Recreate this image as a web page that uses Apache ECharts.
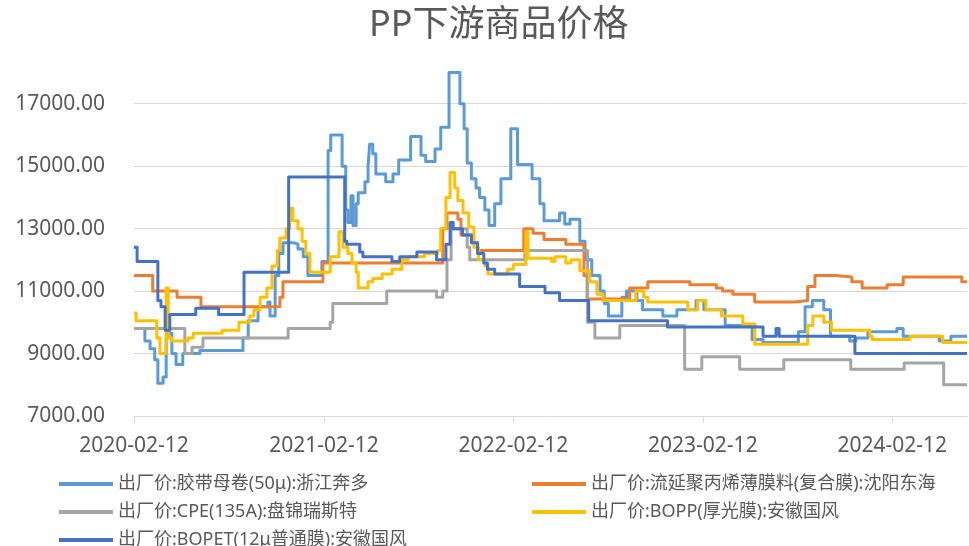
<!DOCTYPE html>
<html>
<head>
<meta charset="utf-8">
<script src="https://cdn.jsdelivr.net/npm/echarts@6/dist/echarts.min.js"></script>
<style>
  html, body { margin: 0; padding: 0; background: #fff; }
  #chart { width: 969px; height: 546px; }
</style>
</head>
<body>
<div id="chart"></div>
<script>
// 出厂价 series, [date of change, price]; drawn as steps
const tapeRoll = [
  ['2020-02-12', 9800], ['2020-03-04', 9400], ['2020-03-14', 9150], ['2020-03-23', 8800],
  ['2020-03-29', 8050], ['2020-04-08', 8250], ['2020-04-14', 9500], ['2020-04-18', 9650],
  ['2020-04-25', 9000], ['2020-05-03', 8650], ['2020-05-16', 9000], ['2020-06-18', 9100],
  ['2020-09-09', 9500], ['2020-09-19', 10050], ['2020-10-08', 10500], ['2020-10-27', 10650],
  ['2020-10-31', 10200], ['2020-11-10', 11500], ['2020-11-17', 12200], ['2020-11-25', 12550],
  ['2020-12-15', 12500], ['2020-12-24', 12350], ['2021-01-03', 12100], ['2021-01-12', 11500],
  ['2021-02-08', 11950], ['2021-02-20', 15500], ['2021-02-25', 16000], ['2021-03-19', 15000],
  ['2021-03-26', 13600], ['2021-03-30', 13200], ['2021-04-05', 14050], ['2021-04-09', 13100],
  ['2021-04-15', 13800], ['2021-04-19', 14150], ['2021-05-02', 14500], ['2021-05-08', 15000],
  ['2021-05-11', 15700], ['2021-05-17', 15400], ['2021-05-23', 14750], ['2021-06-11', 14500],
  ['2021-06-25', 14750], ['2021-07-06', 15200], ['2021-07-29', 15950], ['2021-08-18', 15350],
  ['2021-08-27', 15150], ['2021-09-14', 15550], ['2021-09-25', 16250], ['2021-10-11', 18000],
  ['2021-11-01', 17000], ['2021-11-09', 16200], ['2021-11-15', 15100], ['2021-11-23', 14600],
  ['2021-12-02', 14300], ['2021-12-09', 14000], ['2021-12-19', 13600], ['2021-12-27', 13100],
  ['2022-01-07', 13800], ['2022-01-19', 14600], ['2022-02-07', 16200], ['2022-02-20', 15050],
  ['2022-03-20', 14600], ['2022-04-04', 13800], ['2022-04-12', 13250], ['2022-05-12', 13500],
  ['2022-05-22', 13150], ['2022-06-01', 13300], ['2022-06-20', 12600], ['2022-06-30', 12000],
  ['2022-07-13', 11500], ['2022-07-29', 11000], ['2022-08-06', 10600], ['2022-08-14', 10200],
  ['2022-09-09', 10800], ['2022-09-18', 11000], ['2022-10-08', 10700], ['2022-10-19', 10400],
  ['2022-11-27', 10200], ['2022-12-24', 10400], ['2023-01-30', 10700], ['2023-02-14', 10400],
  ['2023-03-27', 9900], ['2023-05-18', 9450], ['2023-06-08', 9350], ['2023-08-15', 9700],
  ['2023-08-28', 10500], ['2023-09-11', 10700], ['2023-10-03', 10400], ['2023-10-16', 9550],
  ['2023-11-22', 9400], ['2023-12-04', 9500], ['2023-12-27', 9700], ['2024-02-21', 9800],
  ['2024-03-04', 9550], ['2024-05-13', 9400], ['2024-06-04', 9550], ['2024-07-05', 9550]
];
const castFilm = [
  ['2020-02-12', 11500], ['2020-03-19', 11000], ['2020-05-05', 10800], ['2020-06-20', 10500],
  ['2020-11-19', 10800], ['2020-11-25', 11300], ['2021-02-10', 11900], ['2021-09-29', 13000],
  ['2021-10-07', 13500], ['2021-10-28', 13300], ['2021-11-03', 12800], ['2021-11-24', 12550],
  ['2021-12-05', 12300], ['2022-03-04', 13000], ['2022-03-22', 12850], ['2022-04-12', 12650],
  ['2022-05-24', 12500], ['2022-06-28', 11500], ['2022-07-04', 10750], ['2022-09-24', 11100],
  ['2022-10-29', 11300], ['2023-01-18', 11200], ['2023-03-10', 11100], ['2023-03-22', 11000],
  ['2023-04-11', 10900], ['2023-05-23', 10650], ['2023-08-08', 10700], ['2023-09-02', 11150],
  ['2023-09-16', 11500], ['2023-10-26', 11450], ['2023-11-26', 11300], ['2023-12-16', 11100],
  ['2024-02-02', 11200], ['2024-03-04', 11450], ['2024-06-25', 11300], ['2024-07-05', 11300]
];
const cpe = [
  ['2020-02-12', 9800], ['2020-05-20', 9000], ['2020-06-03', 9200], ['2020-06-24', 9500],
  ['2020-12-05', 9800], ['2021-02-24', 10000], ['2021-03-01', 10600], ['2021-06-13', 11000],
  ['2021-09-17', 10800], ['2021-09-29', 11000], ['2021-10-07', 12000], ['2021-10-15', 13000],
  ['2021-11-15', 12400], ['2021-11-20', 12000], ['2022-03-06', 12300], ['2022-07-05', 10000],
  ['2022-07-19', 9500], ['2022-09-05', 9900], ['2023-01-08', 8500], ['2023-02-10', 8900],
  ['2023-04-24', 8500], ['2023-07-18', 8800], ['2023-11-24', 8500], ['2024-03-06', 8700],
  ['2024-05-21', 8000], ['2024-07-05', 8000]
];
const bopp = [
  ['2020-02-12', 10300], ['2020-02-16', 10050], ['2020-03-27', 9500], ['2020-04-02', 9000],
  ['2020-04-14', 11100], ['2020-04-18', 9500], ['2020-04-25', 9400], ['2020-05-26', 9500],
  ['2020-06-05', 9650], ['2020-07-31', 9750], ['2020-09-01', 10000], ['2020-09-22', 10200],
  ['2020-09-30', 10400], ['2020-10-12', 10800], ['2020-10-25', 11100], ['2020-11-04', 11800],
  ['2020-11-14', 12300], ['2020-11-19', 12700], ['2020-12-01', 13000], ['2020-12-08', 13650],
  ['2020-12-14', 13250], ['2020-12-24', 13000], ['2021-01-01', 12600], ['2021-01-08', 12200],
  ['2021-01-16', 11600], ['2021-02-24', 12100], ['2021-03-13', 12900], ['2021-03-21', 12400],
  ['2021-03-30', 12200], ['2021-04-07', 11900], ['2021-04-15', 11600], ['2021-04-19', 11100],
  ['2021-05-08', 11300], ['2021-05-17', 11400], ['2021-06-04', 11550], ['2021-06-23', 11700],
  ['2021-07-12', 12000], ['2021-07-24', 12100], ['2021-08-25', 12200], ['2021-09-19', 12300],
  ['2021-09-25', 13000], ['2021-10-05', 14000], ['2021-10-13', 14800], ['2021-10-22', 14300],
  ['2021-10-28', 13900], ['2021-11-07', 13500], ['2021-11-18', 13050], ['2021-11-28', 12400],
  ['2021-12-07', 12000], ['2021-12-19', 11800], ['2021-12-25', 11550], ['2022-02-01', 11700],
  ['2022-02-12', 11850], ['2022-03-08', 12900], ['2022-03-12', 12050], ['2022-04-27', 11950],
  ['2022-05-03', 12100], ['2022-05-24', 11900], ['2022-06-03', 12000], ['2022-06-20', 11650],
  ['2022-07-09', 11300], ['2022-07-23', 10900], ['2022-08-04', 10700], ['2022-10-06', 11000],
  ['2022-10-21', 10800], ['2022-10-29', 10650], ['2023-01-14', 10400], ['2023-02-02', 10700],
  ['2023-02-18', 10400], ['2023-03-20', 10200], ['2023-04-30', 9950], ['2023-05-23', 9300],
  ['2023-09-02', 9900], ['2023-09-12', 10200], ['2023-10-03', 10000], ['2023-10-18', 9750],
  ['2023-12-31', 9550], ['2024-01-04', 9450], ['2024-03-17', 9550], ['2024-05-19', 9350],
  ['2024-07-05', 9350]
];
const bopet = [
  ['2020-02-12', 12400], ['2020-02-18', 11950], ['2020-03-29', 10700], ['2020-04-04', 10500],
  ['2020-04-12', 9750], ['2020-04-21', 10250], ['2020-06-10', 10450], ['2020-07-24', 10250],
  ['2020-09-11', 11600], ['2020-12-06', 14650], ['2021-03-24', 12600], ['2021-03-28', 12500],
  ['2021-04-22', 12250], ['2021-04-28', 12100], ['2021-06-23', 11950], ['2021-07-08', 12100],
  ['2021-08-10', 12250], ['2021-09-17', 12000], ['2021-10-05', 12500], ['2021-10-13', 13200],
  ['2021-10-19', 13000], ['2021-11-06', 12800], ['2021-11-23', 12550], ['2021-12-05', 12200],
  ['2021-12-17', 11900], ['2021-12-24', 11700], ['2022-01-07', 11550], ['2022-02-24', 11150],
  ['2022-04-14', 10950], ['2022-05-12', 10700], ['2022-07-07', 10050], ['2022-12-06', 9850],
  ['2023-06-08', 9550], ['2023-07-03', 9800], ['2023-07-09', 9550], ['2023-12-02', 9000],
  ['2024-07-05', 9000]
];

const seriesNames = [
  '出厂价:胶带母卷(50μ):浙江奔多',
  '出厂价:流延聚丙烯薄膜料(复合膜):沈阳东海',
  '出厂价:CPE(135A):盘锦瑞斯特',
  '出厂价:BOPP(厚光膜):安徽国风',
  '出厂价:BOPET(12μ普通膜):安徽国风'
];
const seriesData = [tapeRoll, castFilm, cpe, bopp, bopet];
const seriesColors = ['#5B9BD5', '#ED7D31', '#A5A5A5', '#FFC000', '#4472C4'];
const dateTicks = ['2020-02-12', '2021-02-12', '2022-02-12', '2023-02-12', '2024-02-12'];
const dateStart = '2020-02-12';
const dateEnd = '2024-07-05';

const font = "'Noto Sans', 'Noto Sans CJK SC', sans-serif";
const textColor = '#595959';
const gridColor = '#D9D9D9';

const chart = echarts.init(document.getElementById('chart'));

const legendBase = {
  orient: 'vertical',
  icon: 'rect',
  itemWidth: 54,
  itemHeight: 4,
  itemGap: 8,
  padding: 0,
  height: 100,
  textStyle: { color: textColor, fontSize: 18, fontFamily: font, lineHeight: 20 }
};

chart.setOption({
  animation: false,
  title: {
    text: 'PP下游商品价格',
    left: 364,
    top: 3,
    textStyle: { color: textColor, fontSize: 36, fontWeight: 'normal', fontFamily: font }
  },
  legend: [
    Object.assign({ left: 59, top: 474, width: 420, data: [seriesNames[0], seriesNames[2], seriesNames[4]] }, legendBase),
    Object.assign({ left: 532, top: 474, width: 430, data: [seriesNames[1], seriesNames[3]] }, legendBase)
  ],
  grid: { left: 134, right: 2, top: 72.5, bottom: 130, containLabel: false },
  xAxis: {
    type: 'time',
    min: +echarts.time.parse(dateStart),
    max: +echarts.time.parse(dateEnd),
    axisLine: { lineStyle: { color: gridColor, width: 1 } },
    axisTick: { show: true, length: 7, lineStyle: { color: gridColor }, customValues: dateTicks },
    axisLabel: {
      customValues: dateTicks,
      formatter: '{yyyy}-{MM}-{dd}',
      color: textColor, fontSize: 21, fontFamily: font, margin: 20,
      hideOverlap: false
    },
    splitLine: { show: false }
  },
  yAxis: {
    type: 'value',
    min: 7000,
    max: 18000,
    interval: 2000,
    axisLine: { show: false },
    axisTick: { show: false },
    axisLabel: {
      formatter: v => v.toFixed(2),
      showMaxLabel: false,
      color: textColor, fontSize: 21, fontFamily: font, margin: 29
    },
    splitLine: { showMaxLine: false, lineStyle: { color: gridColor, width: 1 } }
  },
  series: seriesNames.map((name, i) => ({
    name: name,
    type: 'line',
    step: 'end',
    showSymbol: false,
    color: seriesColors[i],
    lineStyle: { width: 3, color: seriesColors[i], join: 'round' },
    data: seriesData[i]
  }))
});
</script>
</body>
</html>
